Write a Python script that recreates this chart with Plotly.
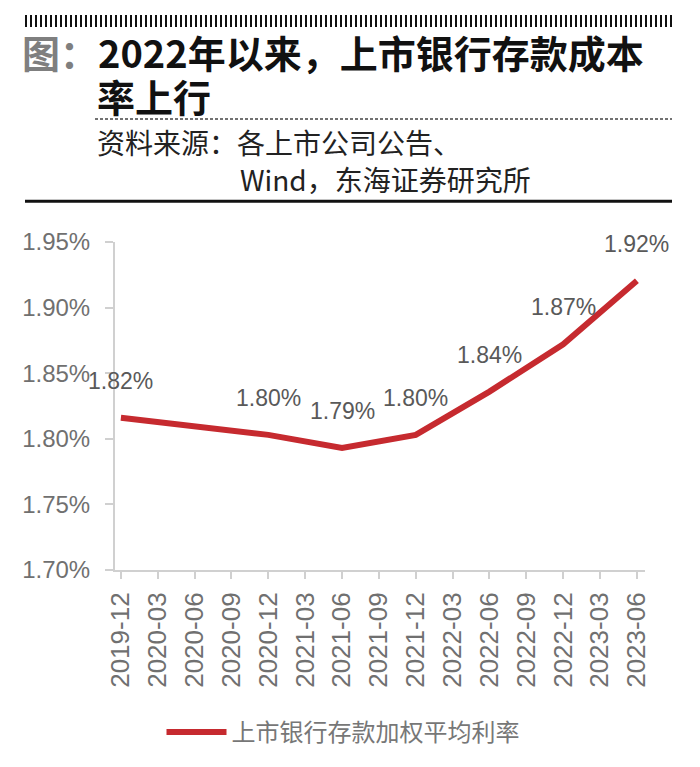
import plotly.graph_objects as go

categories = ["2019-12", "2020-03", "2020-06", "2020-09", "2020-12", "2021-03", "2021-06",
              "2021-09", "2021-12", "2022-03", "2022-06", "2022-09", "2022-12", "2023-03", "2023-06"]
# 上市银行存款加权平均利率 (%), only reported at these dates
rate_dates = ["2019-12", "2020-12", "2021-06", "2021-12", "2022-06", "2022-12", "2023-06"]
rate_values = [1.816, 1.803, 1.793, 1.803, 1.836, 1.872, 1.9205]
series_name = "上市银行存款加权平均利率"
y_ticks = [1.70, 1.75, 1.80, 1.85, 1.90, 1.95]

W, H = 700, 767
L, R, T, B = 115, 55, 242, 194
PW, PH = W - L - R, H - T - B


def px_x(px):
    return (px - L) / PW


def px_y(py):
    return (H - B - py) / PH


fig = go.Figure()
fig.add_trace(go.Scatter(
    x=rate_dates, y=rate_values, mode="lines", name=series_name,
    line=dict(color="#C62A2F", width=6),
    hoverinfo="skip",
))

annotations = []
for d, v in zip(rate_dates, rate_values):
    annotations.append(dict(
        x=d, y=v, xref="x", yref="y", text=f"{v:.2f}%", showarrow=False,
        yshift=37, yanchor="middle", xanchor="center",
        font=dict(family="Liberation Sans, Arial", size=23, color="#595959"),
    ))

# Title & source
annotations += [
    dict(x=px_x(20), y=px_y(50), xref="paper", yref="paper",
         text="<b><span style='color:#7f7f7f'>图：</span>2022年以来，上市银行存款成本</b>",
         showarrow=False, xanchor="left", yanchor="middle", align="left",
         font=dict(family="Noto Sans CJK SC", size=38, color="#111111")),
    dict(x=px_x(95), y=px_y(94), xref="paper", yref="paper",
         text="<b>率上行</b>",
         showarrow=False, xanchor="left", yanchor="middle", align="left",
         font=dict(family="Noto Sans CJK SC", size=38, color="#111111")),
    dict(x=px_x(95), y=px_y(141), xref="paper", yref="paper", text="资料来源：各上市公司公告、",
         showarrow=False, xanchor="left", yanchor="middle",
         font=dict(family="Noto Sans CJK SC", size=28, color="#222222")),
    dict(x=px_x(238), y=px_y(178), xref="paper", yref="paper", text="Wind，东海证券研究所",
         showarrow=False, xanchor="left", yanchor="middle",
         font=dict(family="Noto Sans CJK SC", size=28, color="#222222")),
]

shapes = [
    dict(type="line", xref="paper", yref="paper", x0=px_x(25), x1=px_x(673), y0=px_y(19), y1=px_y(19),
         line=dict(color="#111111", width=12, dash="2px,3px")),
    dict(type="line", xref="paper", yref="paper", x0=px_x(95), x1=px_x(672), y0=px_y(118), y1=px_y(118),
         line=dict(color="#444444", width=1.5, dash="3px,2px")),
    dict(type="line", xref="paper", yref="paper", x0=px_x(25), x1=px_x(672), y0=px_y(201), y1=px_y(201),
         line=dict(color="#111111", width=3)),
]

fig.update_layout(
    width=W, height=H,
    margin=dict(l=L, r=R, t=T, b=B, pad=0),
    paper_bgcolor="white", plot_bgcolor="white",
    showlegend=True,
    legend=dict(orientation="h", x=px_x(343), y=px_y(737), xanchor="center", yanchor="middle",
                font=dict(family="Noto Sans CJK SC", size=24, color="#777777"),
                itemwidth=60, bgcolor="rgba(0,0,0,0)"),
    annotations=annotations,
    shapes=shapes,
    xaxis=dict(
        type="category", categoryorder="array", categoryarray=categories,
        tickmode="array", tickvals=categories, ticktext=categories,
        range=[-0.16, 14.22], showgrid=False, zeroline=False,
        showline=True, linecolor="#d0d0d0", linewidth=2,
        ticks="outside", ticklen=7, tickwidth=2, tickcolor="#d0d0d0",
        tickangle=-90, tickfont=dict(family="Liberation Sans, Arial", size=26, color="#707070"),
        ticklabelstandoff=3,
        fixedrange=True,
    ),
    yaxis=dict(
        range=[1.70, 1.95], tickvals=y_ticks, ticktext=[f"{v:.2f}%" for v in y_ticks],
        showgrid=False, zeroline=False,
        showline=True, linecolor="#d0d0d0", linewidth=2,
        ticks="outside", ticklen=8, tickwidth=2, tickcolor="#d0d0d0",
        tickfont=dict(family="Liberation Sans, Arial", size=24, color="#707070"),
        ticklabelstandoff=10,
        fixedrange=True,
    ),
)

fig.write_html("out.html")
